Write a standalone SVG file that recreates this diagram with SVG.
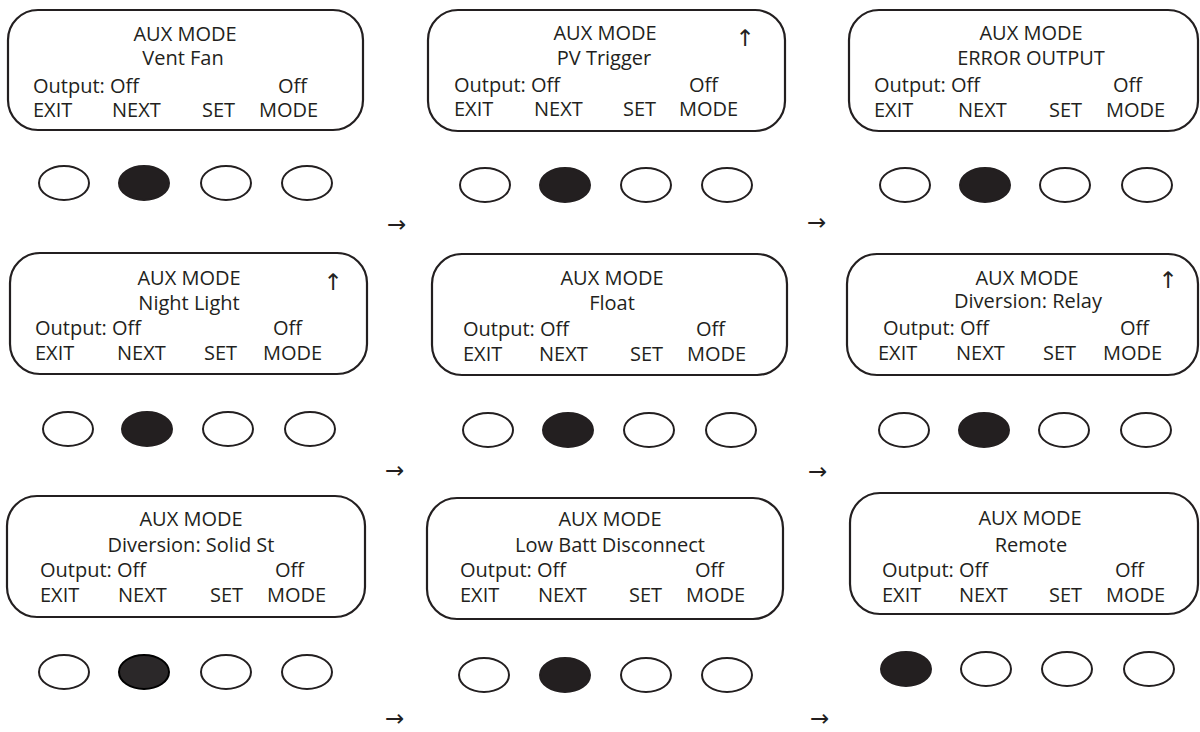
<svg xmlns="http://www.w3.org/2000/svg" width="1200" height="732" viewBox="0 0 1200 732">
<style>
.box{fill:none;stroke:#231f20;stroke-width:2.2}
.btn{fill:#fff;stroke:#231f20;stroke-width:2}
.on{fill:#231f20;stroke:#231f20;stroke-width:2}
.t{font-family:"Open Sans","Liberation Sans",sans-serif;font-size:20px;fill:#231f20}
.c{text-anchor:middle}
.ar{font-family:"DejaVu Sans",sans-serif;font-size:23px;fill:#231f20}
</style>
<rect width="1200" height="732" fill="#fff"/>

<g id="panel-vent-fan">
<rect class="box" x="8" y="10" width="355" height="120" rx="30"/>
<text class="t c" x="185" y="41">AUX MODE</text>
<text class="t c" x="183" y="65">Vent Fan</text>
<text class="t" x="33" y="93">Output: Off</text>
<text class="t" x="278" y="93">Off</text>
<text class="t" x="33" y="117">EXIT</text>
<text class="t" x="112" y="117">NEXT</text>
<text class="t" x="202" y="117">SET</text>
<text class="t" x="259" y="117">MODE</text>
<ellipse class="btn" cx="64" cy="183" rx="25" ry="17"/>
<ellipse class="on" cx="144" cy="183" rx="25" ry="17"/>
<ellipse class="btn" cx="226" cy="183" rx="25" ry="17"/>
<ellipse class="btn" cx="307" cy="183" rx="25" ry="17"/>
</g>

<g id="panel-pv-trigger">
<rect class="box" x="428" y="10" width="357" height="121" rx="30"/>
<text class="t c" x="605" y="40">AUX MODE</text>
<text class="ar c" x="745" y="46">↑</text>
<text class="t c" x="604" y="65">PV Trigger</text>
<text class="t" x="454" y="92">Output: Off</text>
<text class="t" x="689" y="92">Off</text>
<text class="t" x="454" y="116">EXIT</text>
<text class="t" x="534" y="116">NEXT</text>
<text class="t" x="623" y="116">SET</text>
<text class="t" x="679" y="116">MODE</text>
<ellipse class="btn" cx="485" cy="185" rx="25" ry="17"/>
<ellipse class="on" cx="565" cy="185" rx="25" ry="17"/>
<ellipse class="btn" cx="646" cy="185" rx="25" ry="17"/>
<ellipse class="btn" cx="727" cy="185" rx="25" ry="17"/>
</g>

<g id="panel-error-output">
<rect class="box" x="849" y="10" width="349" height="121" rx="30"/>
<text class="t c" x="1031" y="40">AUX MODE</text>
<text class="t c" x="1031" y="65">ERROR OUTPUT</text>
<text class="t" x="874" y="92">Output: Off</text>
<text class="t" x="1113" y="92">Off</text>
<text class="t" x="874" y="117">EXIT</text>
<text class="t" x="958" y="117">NEXT</text>
<text class="t" x="1049" y="117">SET</text>
<text class="t" x="1106" y="117">MODE</text>
<ellipse class="btn" cx="905" cy="185" rx="25" ry="17"/>
<ellipse class="on" cx="985" cy="185" rx="25" ry="17"/>
<ellipse class="btn" cx="1065" cy="185" rx="25" ry="17"/>
<ellipse class="btn" cx="1147" cy="185" rx="25" ry="17"/>
</g>

<g id="panel-night-light">
<rect class="box" x="10" y="253" width="357" height="121" rx="30"/>
<text class="t c" x="189" y="285">AUX MODE</text>
<text class="ar c" x="333" y="290">↑</text>
<text class="t c" x="189" y="310">Night Light</text>
<text class="t" x="35" y="335">Output: Off</text>
<text class="t" x="273" y="335">Off</text>
<text class="t" x="35" y="360">EXIT</text>
<text class="t" x="117" y="360">NEXT</text>
<text class="t" x="204" y="360">SET</text>
<text class="t" x="263" y="360">MODE</text>
<ellipse class="btn" cx="68" cy="429" rx="25" ry="17"/>
<ellipse class="on" cx="147" cy="429" rx="25" ry="17"/>
<ellipse class="btn" cx="228" cy="429" rx="25" ry="17"/>
<ellipse class="btn" cx="310" cy="429" rx="25" ry="17"/>
</g>

<g id="panel-float">
<rect class="box" x="432" y="254" width="355" height="121" rx="30"/>
<text class="t c" x="612" y="285">AUX MODE</text>
<text class="t c" x="612" y="310">Float</text>
<text class="t" x="463" y="336">Output: Off</text>
<text class="t" x="696" y="336">Off</text>
<text class="t" x="463" y="361">EXIT</text>
<text class="t" x="539" y="361">NEXT</text>
<text class="t" x="630" y="361">SET</text>
<text class="t" x="687" y="361">MODE</text>
<ellipse class="btn" cx="488" cy="430" rx="25" ry="17"/>
<ellipse class="on" cx="568" cy="430" rx="25" ry="17"/>
<ellipse class="btn" cx="649" cy="430" rx="25" ry="17"/>
<ellipse class="btn" cx="731" cy="430" rx="25" ry="17"/>
</g>

<g id="panel-diversion-relay">
<rect class="box" x="847" y="254" width="351" height="121" rx="30"/>
<text class="t c" x="1027" y="285">AUX MODE</text>
<text class="ar c" x="1168" y="288">↑</text>
<text class="t c" x="1028" y="308">Diversion: Relay</text>
<text class="t" x="883" y="335">Output: Off</text>
<text class="t" x="1120" y="335">Off</text>
<text class="t" x="878" y="360">EXIT</text>
<text class="t" x="956" y="360">NEXT</text>
<text class="t" x="1043" y="360">SET</text>
<text class="t" x="1103" y="360">MODE</text>
<ellipse class="btn" cx="904" cy="430" rx="25" ry="17"/>
<ellipse class="on" cx="984" cy="430" rx="25" ry="17"/>
<ellipse class="btn" cx="1064" cy="430" rx="25" ry="17"/>
<ellipse class="btn" cx="1146" cy="430" rx="25" ry="17"/>
</g>

<g id="panel-diversion-solid-st">
<rect class="box" x="7" y="496" width="358" height="121" rx="30"/>
<text class="t c" x="191" y="526">AUX MODE</text>
<text class="t c" x="191" y="552">Diversion: Solid St</text>
<text class="t" x="40" y="577">Output: Off</text>
<text class="t" x="275" y="577">Off</text>
<text class="t" x="40" y="602">EXIT</text>
<text class="t" x="118" y="602">NEXT</text>
<text class="t" x="210" y="602">SET</text>
<text class="t" x="267" y="602">MODE</text>
<ellipse class="btn" cx="64" cy="672" rx="25" ry="17"/>
<ellipse class="on" cx="144" cy="672" rx="25" ry="17" style="fill:#2b2829;stroke:#000"/>
<ellipse class="btn" cx="226" cy="672" rx="25" ry="17"/>
<ellipse class="btn" cx="307" cy="672" rx="25" ry="17"/>
</g>

<g id="panel-low-batt-disconnect">
<rect class="box" x="427" y="498" width="356" height="121" rx="30"/>
<text class="t c" x="610" y="526">AUX MODE</text>
<text class="t c" x="610" y="552">Low Batt Disconnect</text>
<text class="t" x="460" y="577">Output: Off</text>
<text class="t" x="695" y="577">Off</text>
<text class="t" x="460" y="602">EXIT</text>
<text class="t" x="538" y="602">NEXT</text>
<text class="t" x="629" y="602">SET</text>
<text class="t" x="686" y="602">MODE</text>
<ellipse class="btn" cx="484" cy="675" rx="25" ry="17"/>
<ellipse class="on" cx="565" cy="675" rx="25" ry="17"/>
<ellipse class="btn" cx="646" cy="675" rx="25" ry="17"/>
<ellipse class="btn" cx="727" cy="675" rx="25" ry="17"/>
</g>

<g id="panel-remote">
<rect class="box" x="850" y="493" width="348" height="121" rx="30"/>
<text class="t c" x="1030" y="525">AUX MODE</text>
<text class="t c" x="1031" y="552">Remote</text>
<text class="t" x="882" y="577">Output: Off</text>
<text class="t" x="1115" y="577">Off</text>
<text class="t" x="882" y="602">EXIT</text>
<text class="t" x="959" y="602">NEXT</text>
<text class="t" x="1049" y="602">SET</text>
<text class="t" x="1106" y="602">MODE</text>
<ellipse class="on" cx="906" cy="669" rx="25" ry="17"/>
<ellipse class="btn" cx="986" cy="669" rx="25" ry="17"/>
<ellipse class="btn" cx="1067" cy="669" rx="25" ry="17"/>
<ellipse class="btn" cx="1149" cy="669" rx="25" ry="17"/>
</g>

<g id="connectors">
<text class="ar" x="387" y="232">→</text>
<text class="ar" x="807" y="230">→</text>
<text class="ar" x="385" y="478">→</text>
<text class="ar" x="808" y="479">→</text>
<text class="ar" x="385" y="726">→</text>
<text class="ar" x="810" y="726">→</text>
</g>
</svg>
